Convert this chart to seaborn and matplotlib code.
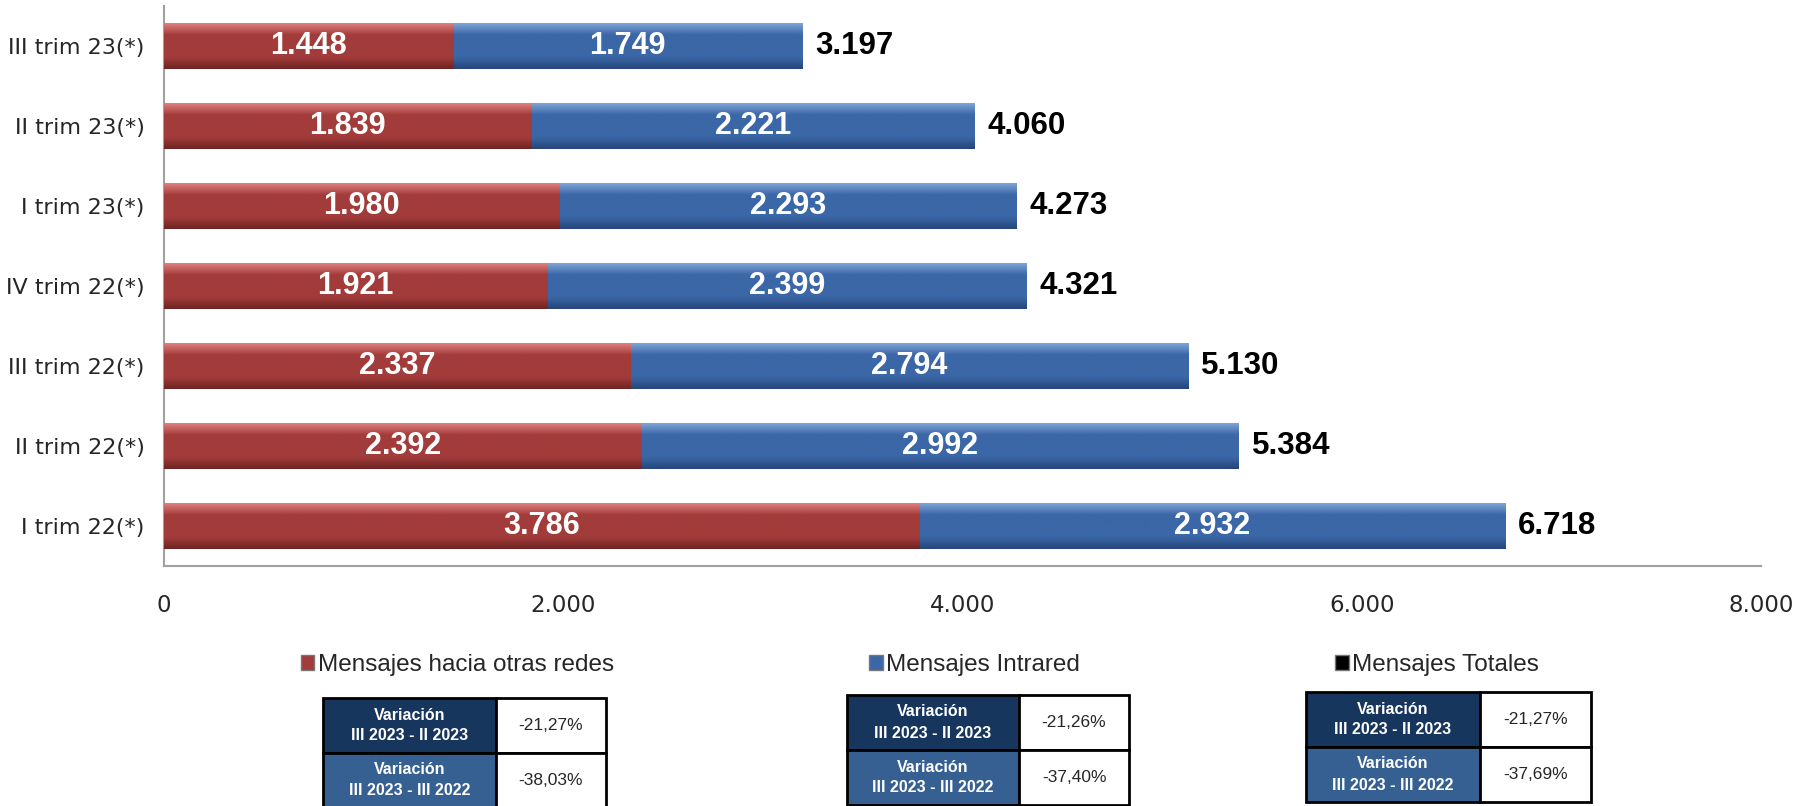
import numpy as np
import matplotlib.pyplot as plt
import seaborn as sns
from matplotlib.colors import LinearSegmentedColormap
from matplotlib.patches import Patch
from matplotlib import font_manager

trimestres = ['III trim 23(*)', 'II trim 23(*)', 'I trim 23(*)', 'IV trim 22(*)',
              'III trim 22(*)', 'II trim 22(*)', 'I trim 22(*)']
otras_redes = [1448, 1839, 1980, 1921, 2337, 2392, 3786]
intrared = [1749, 2221, 2293, 2399, 2794, 2992, 2932]
totales = [3197, 4060, 4273, 4321, 5130, 5384, 6718]
etiquetas_tot = ['3.197', '4.060', '4.273', '4.321', '5.130', '5.384', '6.718']
etq_rojo = ['1.448', '1.839', '1.980', '1.921', '2.337', '2.392', '3.786']
etq_azul = ['1.749', '2.221', '2.293', '2.399', '2.794', '2.992', '2.932']

tablas = [
    ['-21,27%', '-38,03%'],
    ['-21,26%', '-37,40%'],
    ['-21,27%', '-37,69%'],
]
filas = ['Variación\nIII 2023 - II 2023', 'Variación\nIII 2023 - III 2022']
leyenda = ['Mensajes hacia otras redes', 'Mensajes Intrared', 'Mensajes Totales']

rojo = '#A23C3B'
azul = '#3B67A7'
navy = '#17365D'
azul_tabla = '#366092'

sns.set_style('white')
nombres = {f.name for f in font_manager.fontManager.ttflist}
narrow = 'Liberation Sans Narrow' if 'Liberation Sans Narrow' in nombres else 'Liberation Sans'
plt.rcParams['font.family'] = ['DejaVu Sans']

fig = plt.figure(figsize=(18.05, 8.06), dpi=100)
ax = fig.add_axes([164/1805, 1-566/806, (1761-164)/1805, 560/806])

sns.barplot(x=totales, y=trimestres, color=azul, saturation=1, width=0.575, ax=ax, orient='h')
n_azul = len(ax.patches)
sns.barplot(x=otras_redes, y=trimestres, color=rojo, saturation=1, width=0.575, ax=ax, orient='h')

# sombreado tipo Excel
def degradado(base, claro, oscuro):
    return LinearSegmentedColormap.from_list('g', [claro, base, base, base, oscuro])

cm_azul = degradado(azul, '#7FA3D8', '#24467A')
cm_rojo = degradado(rojo, '#E07F7D', '#6E2423')
grad = np.linspace(0, 1, 64).reshape(-1, 1)
for i, p in enumerate(list(ax.patches)):
    es_rojo = i >= n_azul
    z = 3 if es_rojo else 1
    p.set_zorder(z)
    p.set_edgecolor('none')
    x0, y0, w, h = p.get_x(), p.get_y(), p.get_width(), p.get_height()
    im = ax.imshow(grad, extent=(x0, x0 + w, y0 + h, y0), origin='upper', aspect='auto',
                   cmap=cm_rojo if es_rojo else cm_azul, zorder=z + 0.1, interpolation='bicubic')
    im.set_clip_path(p)

ax.set_xlim(0, 8000)
ax.set_ylim(len(trimestres) - 0.5, -0.5)
ax.set_aspect('auto')

for i in range(len(trimestres)):
    r = otras_redes[i]
    ax.text(r / 2, i, etq_rojo[i], color='white', fontsize=22, fontweight='bold',
            family='Liberation Sans', ha='center', va='center', zorder=5)
    ax.text(r + intrared[i] / 2, i, etq_azul[i], color='white', fontsize=22, fontweight='bold',
            family='Liberation Sans', ha='center', va='center', zorder=5)
    ax.text(totales[i] + 65, i, etiquetas_tot[i], color='black', fontsize=22.5, fontweight='bold',
            family='Liberation Sans', ha='left', va='center', zorder=5)

ax.set_xticks([0, 2000, 4000, 6000, 8000])
ax.set_xticklabels(['0', '2.000', '4.000', '6.000', '8.000'], fontsize=16.5)
ax.tick_params(axis='x', length=0, pad=20)
ax.tick_params(axis='y', which='major', length=0, labelsize=16, pad=14)
ax.set_yticks(np.arange(-0.5, len(trimestres), 1), minor=True)
ax.tick_params(axis='y', which='minor', length=14, color='#A0A0A0', width=1.2)
for s in ['top', 'right']:
    ax.spines[s].set_visible(False)
for s in ['left', 'bottom']:
    ax.spines[s].set_color('#A0A0A0')
    ax.spines[s].set_linewidth(1.5)
ax.set_xlabel('')
ax.set_ylabel('')

handles = [Patch(facecolor=rojo, edgecolor='#777777'),
           Patch(facecolor=azul, edgecolor='#777777'),
           Patch(facecolor='black', edgecolor='#777777')]
fig.legend(handles, leyenda, loc='center', bbox_to_anchor=(920/1805, 1-665/806), ncol=3,
           frameon=False, prop={'family': narrow, 'size': 17.5}, handlelength=0.55,
           handleheight=0.55, handletextpad=0.15, columnspacing=10.5)

# tablas de variación
cajas = [(323, 606, 698, 808), (847, 1129, 695, 805), (1306, 1591, 692, 802)]
for (x0, x1, y0, y1), valores in zip(cajas, tablas):
    tax = fig.add_axes([x0/1805, 1-y1/806, (x1-x0)/1805, (y1-y0)/806])
    tax.axis('off')
    celdas = [[filas[k], valores[k]] for k in range(2)]
    t = tax.table(cellText=celdas, bbox=[0, 0, 1, 1], colWidths=[0.61, 0.39], cellLoc='center')
    t.auto_set_font_size(False)
    for (fi, co), c in t.get_celld().items():
        c.set_edgecolor('black')
        c.set_linewidth(2)
        if co == 0:
            c.set_facecolor(navy if fi == 0 else azul_tabla)
            c.get_text().set_color('white')
            c.get_text().set_fontweight('bold')
            c.get_text().set_fontsize(11.5)
            c.get_text().set_family(narrow)
            c.get_text().set_linespacing(1.5)
        else:
            c.set_facecolor('white')
            c.get_text().set_fontsize(12.5)
            c.get_text().set_family(narrow)

fig.savefig('out.png', dpi=100)
